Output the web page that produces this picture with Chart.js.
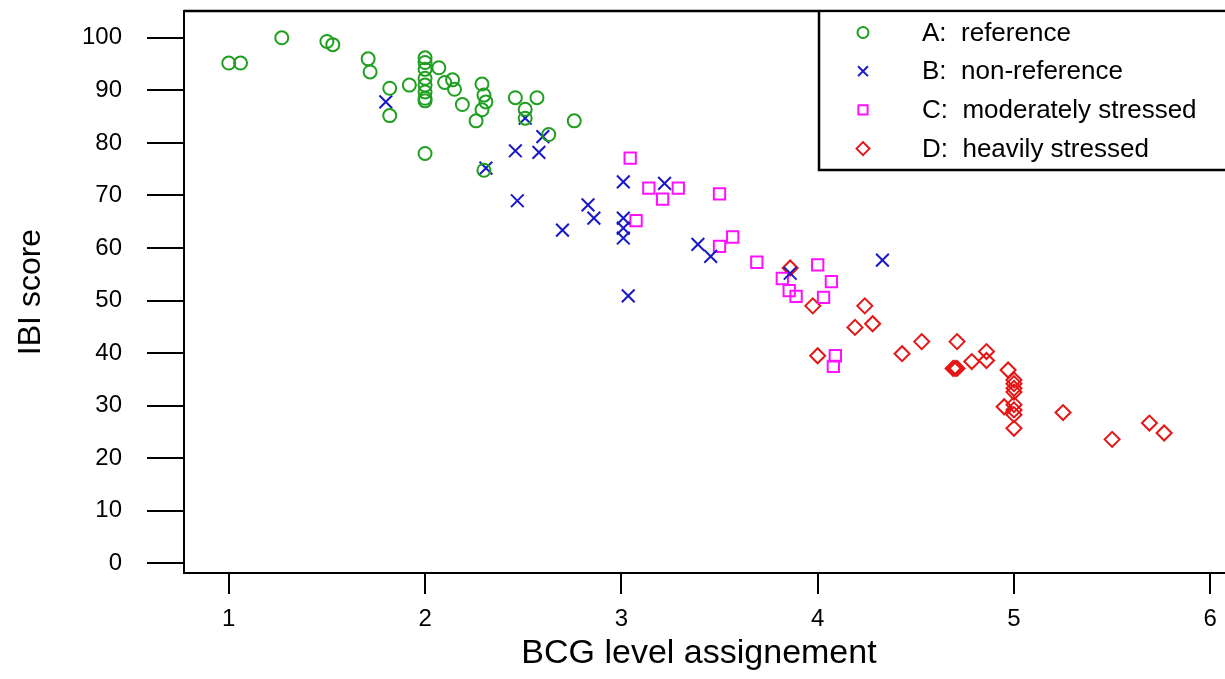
<!DOCTYPE html>
<html>
<head>
<meta charset="utf-8">
<script src="https://cdn.jsdelivr.net/npm/chart.js@4.4.1/dist/chart.umd.min.js"></script>
<style>
  html, body { margin: 0; padding: 0; background: #fff; overflow: hidden; }
  #wrap { position: relative; width: 1225px; height: 679px; }
  #bcgChart { display: block; }
</style>
</head>
<body>
<div id="wrap"><canvas id="bcgChart"></canvas></div>
<script>
(() => {
  // group labels (legend)
  const groupLabels = ["A:  reference", "B:  non-reference", "C:  moderately stressed", "D:  heavily stressed"];

  // A: reference
  const aX = [1.0, 1.06, 1.27, 1.5, 1.53, 1.71, 1.72, 1.82, 1.82, 1.92, 2.0, 2.0, 2.0, 2.0, 2.0, 2.0, 2.0, 2.0, 2.0,
              2.07, 2.10, 2.14, 2.15, 2.19, 2.26, 2.29, 2.30, 2.31, 2.29, 2.30, 2.46, 2.51, 2.51, 2.57, 2.63, 2.76];
  const aY = [95.2, 95.2, 100, 99.3, 98.7, 96, 93.5, 90.4, 85.2, 91, 96.2, 95.3, 94, 92.3, 91, 89.7, 88.5, 88, 78,
              94.3, 91.5, 92, 90.2, 87.3, 84.2, 91.2, 89.1, 87.8, 86.3, 74.8, 88.6, 86.4, 84.7, 88.6, 81.6, 84.2];

  // B: non-reference
  const bX = [1.80, 2.31, 2.46, 2.47, 2.51, 2.58, 2.60, 2.70, 2.83, 2.86, 3.01, 3.01, 3.01, 3.01, 3.035, 3.22, 3.39, 3.455, 3.86, 4.33];
  const bY = [87.8, 75.2, 78.5, 69.0, 84.7, 78.2, 81.2, 63.4, 68.2, 65.7, 72.6, 65.7, 63.8, 61.9, 50.9, 72.3, 60.7, 58.4, 55.2, 57.7];

  // C: moderately stressed
  const cX = [3.045, 3.075, 3.14, 3.21, 3.29, 3.50, 3.50, 3.567, 3.69, 3.82, 3.855, 3.89, 4.0, 4.03, 4.07, 4.09, 4.08];
  const cY = [77.1, 65.2, 71.4, 69.3, 71.4, 70.3, 60.3, 62.1, 57.3, 54.2, 51.9, 50.8, 56.8, 50.6, 53.6, 39.5, 37.5];

  // D: heavily stressed
  const dX = [3.86, 3.975, 4.0, 4.19, 4.24, 4.28, 4.43, 4.53, 4.69, 4.70, 4.71, 4.71, 4.785, 4.86, 4.86,
              4.95, 4.97, 5.0, 5.0, 5.0, 5.0, 5.0, 5.0, 5.0, 5.0, 5.25, 5.50, 5.69, 5.765];
  const dY = [56.2, 49.0, 39.5, 44.9, 49.0, 45.6, 39.9, 42.2, 37.1, 37.1, 37.1, 42.2, 38.4, 40.3, 38.6,
              29.8, 36.8, 34.9, 34.2, 33.3, 32.6, 30.2, 29.2, 28.3, 25.7, 28.7, 23.6, 26.7, 24.8];

  const xTicks = [1, 2, 3, 4, 5, 6];
  const yTicks = [0, 10, 20, 30, 40, 50, 60, 70, 80, 90, 100];

  const FONT = "'Liberation Sans', Arial, sans-serif";
  const styles = [
    { color: "#1f9f1f", pointStyle: "circle", radius: 6.5, legendRadius: 5.5 },
    { color: "#1818c8", pointStyle: "crossRot", radius: 9, legendRadius: 7 },
    { color: "#ff10ff", pointStyle: "rect", radius: 8, legendRadius: 6.5 },
    { color: "#e51515", pointStyle: "rectRot", radius: 7.5, legendRadius: 6.5 }
  ];

  const pairs = (xs, ys) => xs.map((x, i) => ({ x, y: ys[i] }));
  const series = [pairs(aX, aY), pairs(bX, bY), pairs(cX, cY), pairs(dX, dY)];

  /* ---------------- FRAME + LEGEND ---------------- */
  const framePlugin = {
    id: "frame",
    afterDraw(chart) {
      const { ctx, chartArea: a } = chart;
      const w = chart.width;
      ctx.save();
      ctx.strokeStyle = "#000";
      ctx.lineWidth = 2.5;
      ctx.beginPath();
      ctx.moveTo(a.left, a.top);
      ctx.lineTo(w, a.top);
      ctx.stroke();

      // bottom axis runs on to the picture edge
      ctx.lineWidth = 2;
      ctx.beginPath();
      ctx.moveTo(a.right - 1, a.bottom);
      ctx.lineTo(w, a.bottom);
      ctx.stroke();

      // legend box
      const boxLeft = 819, boxBottom = 170;
      ctx.lineWidth = 2.5;
      ctx.fillStyle = "#fff";
      ctx.fillRect(boxLeft, a.top + 1.5, w - boxLeft, boxBottom - a.top - 1.5);
      ctx.beginPath();
      ctx.moveTo(w, boxBottom);
      ctx.lineTo(boxLeft, boxBottom);
      ctx.lineTo(boxLeft, a.top);
      ctx.stroke();

      ctx.font = "26px " + FONT;
      ctx.textBaseline = "middle";
      ctx.textAlign = "left";
      groupLabels.forEach((label, i) => {
        const y = 32.5 + i * 38.7;
        const s = styles[i];
        ctx.strokeStyle = s.color;
        ctx.fillStyle = "rgba(0,0,0,0)";
        ctx.lineWidth = 2;
        Chart.helpers.drawPoint(ctx, { pointStyle: s.pointStyle, radius: s.legendRadius, rotation: 0, borderWidth: 2 }, 863, y);
        ctx.fillStyle = "#000";
        ctx.fillText(label, 922, y + 1);
      });
      ctx.restore();
    }
  };

  new Chart(document.getElementById("bcgChart"), {
    type: "scatter",
    data: {
      datasets: series.map((data, i) => ({
        label: groupLabels[i],
        data,
        pointStyle: styles[i].pointStyle,
        pointRadius: styles[i].radius,
        pointBorderWidth: 2,
        borderColor: styles[i].color,
        backgroundColor: "rgba(0,0,0,0)"
      }))
    },
    options: {
      responsive: true,
      maintainAspectRatio: false,
      animation: false,
      layout: { padding: { top: 11, right: 0, left: 0, bottom: 0 } },
      plugins: {
        legend: { display: false },
        tooltip: { enabled: false }
      },
      scales: {
        x: {
          type: "linear",
          min: 0.772,
          max: 6.019,
          afterFit: s => { s.height = 106; s.paddingLeft = 0; s.paddingRight = 0; },
          afterBuildTicks: s => { s.ticks = xTicks.map(v => ({ value: v })); },
          ticks: { color: "#000", font: { family: FONT, size: 24 }, padding: 11, maxRotation: 0 },
          grid: { drawOnChartArea: false, drawTicks: true, tickLength: 21, color: "#000", lineWidth: 2 },
          border: { display: true, color: "#000", width: 2 },
          title: {
            display: true,
            text: "BCG level assignement",
            color: "#000",
            font: { family: FONT, size: 34 },
            padding: { top: 0, bottom: 5 }
          }
        },
        y: {
          type: "linear",
          min: -1.83,
          max: 105.1,
          afterFit: s => { s.width = 184; s.paddingTop = 0; s.paddingBottom = 0; },
          afterBuildTicks: s => { s.ticks = yTicks.map(v => ({ value: v })); },
          ticks: { color: "#000", font: { family: FONT, size: 24 }, padding: 25 },
          grid: { drawOnChartArea: false, drawTicks: true, tickLength: 37, color: "#000", lineWidth: 2 },
          border: { display: true, color: "#000", width: 2 },
          title: {
            display: true,
            text: "IBI score",
            color: "#000",
            font: { family: FONT, size: 32 },
            padding: { top: 12, bottom: 0 }
          }
        }
      }
    },
    plugins: [framePlugin]
  });
})();
</script>
</body>
</html>
